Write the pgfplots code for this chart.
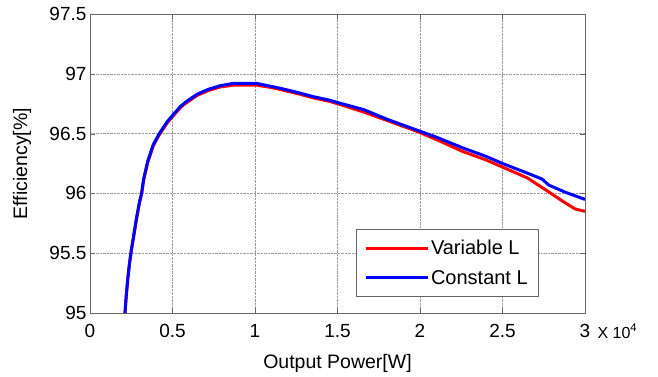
\documentclass[border=0pt]{standalone}
\usepackage{pgfplots}
\pgfplotsset{compat=1.18}
\usepackage{fontspec}
\setmainfont{Liberation Sans}
\begin{document}
\begin{tikzpicture}
\begin{axis}[
  name=ax,
  scale only axis,
  width=495pt, height=299pt,
  xmin=0, xmax=30000, ymin=95, ymax=97.5,
  xtick={0,5000,10000,15000,20000,25000,30000},
  xticklabels={0,0.5,1,1.5,2,2.5,3},
  ytick={95,95.5,96,96.5,97,97.5},
  yticklabels={95,95.5,96,96.5,97,97.5},
  scaled x ticks=false,
  /pgf/number format/assume math mode=true,
  tick label style={font=\fontsize{19}{21}\selectfont},
  xticklabel style={yshift=-8pt},
  label style={font=\fontsize{19.5}{21}\selectfont},
  xlabel={Output Power[W]},
  ylabel={Efficiency[\%]},
  xlabel style={at={(axis description cs:0.5,-0.168)}, anchor=center},
  ylabel style={at={(axis description cs:-0.137,0.5)}, anchor=center},
  tick align=inside,
  major tick length=5pt,
  axis line style={draw=black!60},
  tick style={draw=black!60},
  grid=major,
  major grid style={densely dotted, draw=black!40, line width=0.5pt},
  legend style={at={(0.537,0.054)}, anchor=south west, draw=black!60,
    font=\fontsize{20}{22}\selectfont, inner xsep=8pt, inner ysep=9pt,
    row sep=10pt, legend cell align=left},
  legend image code/.code={\draw[#1,line width=3pt] (0pt,0pt) -- (62pt,0pt);},
]
\addplot[red, line width=3pt] coordinates {
(2120,95.00)(2200,95.15)(2300,95.30)(2400,95.42)(2500,95.52)(2650,95.64)(2800,95.77)(3000,95.92)(3130,96.00)(3250,96.11)(3500,96.26)(3840,96.40)(4200,96.49)(4680,96.59)(5050,96.65)(5500,96.72)(5860,96.76)(6500,96.82)(7170,96.86)(7880,96.89)(8690,96.905)(9500,96.905)(10100,96.905)(10800,96.89)(11500,96.87)(12700,96.83)(13500,96.80)(14500,96.77)(15000,96.75)(16600,96.68)(18000,96.61)(19800,96.52)(21000,96.45)(22600,96.35)(24000,96.28)(25000,96.22)(26500,96.13)(27500,96.04)(28700,95.93)(29400,95.87)(30000,95.85)
};
\addlegendentry{Variable L}
\addplot[blue, line width=3pt] coordinates {
(2120,95.00)(2200,95.15)(2300,95.30)(2400,95.42)(2500,95.52)(2650,95.65)(2800,95.78)(3000,95.93)(3130,96.00)(3250,96.12)(3500,96.27)(3840,96.41)(4200,96.50)(4680,96.60)(5050,96.66)(5500,96.73)(5860,96.77)(6500,96.83)(7170,96.87)(7880,96.90)(8690,96.92)(9500,96.92)(10100,96.92)(10800,96.90)(11500,96.88)(12700,96.84)(13500,96.81)(14500,96.78)(15000,96.76)(16600,96.70)(18000,96.62)(19800,96.53)(21000,96.47)(22600,96.38)(24000,96.31)(25000,96.25)(26500,96.17)(27400,96.12)(27800,96.07)(28800,96.01)(30000,95.95)
};
\addlegendentry{Constant L}
\end{axis}
\node[anchor=base west, font=\fontsize{16}{18}\selectfont] at ([xshift=9pt,yshift=-25pt]ax.south east) {X 10\textsuperscript{4}};
\path (ax.south west) ++(-90pt,-63pt) rectangle ++(658pt,376pt);
\end{tikzpicture}
\end{document}
